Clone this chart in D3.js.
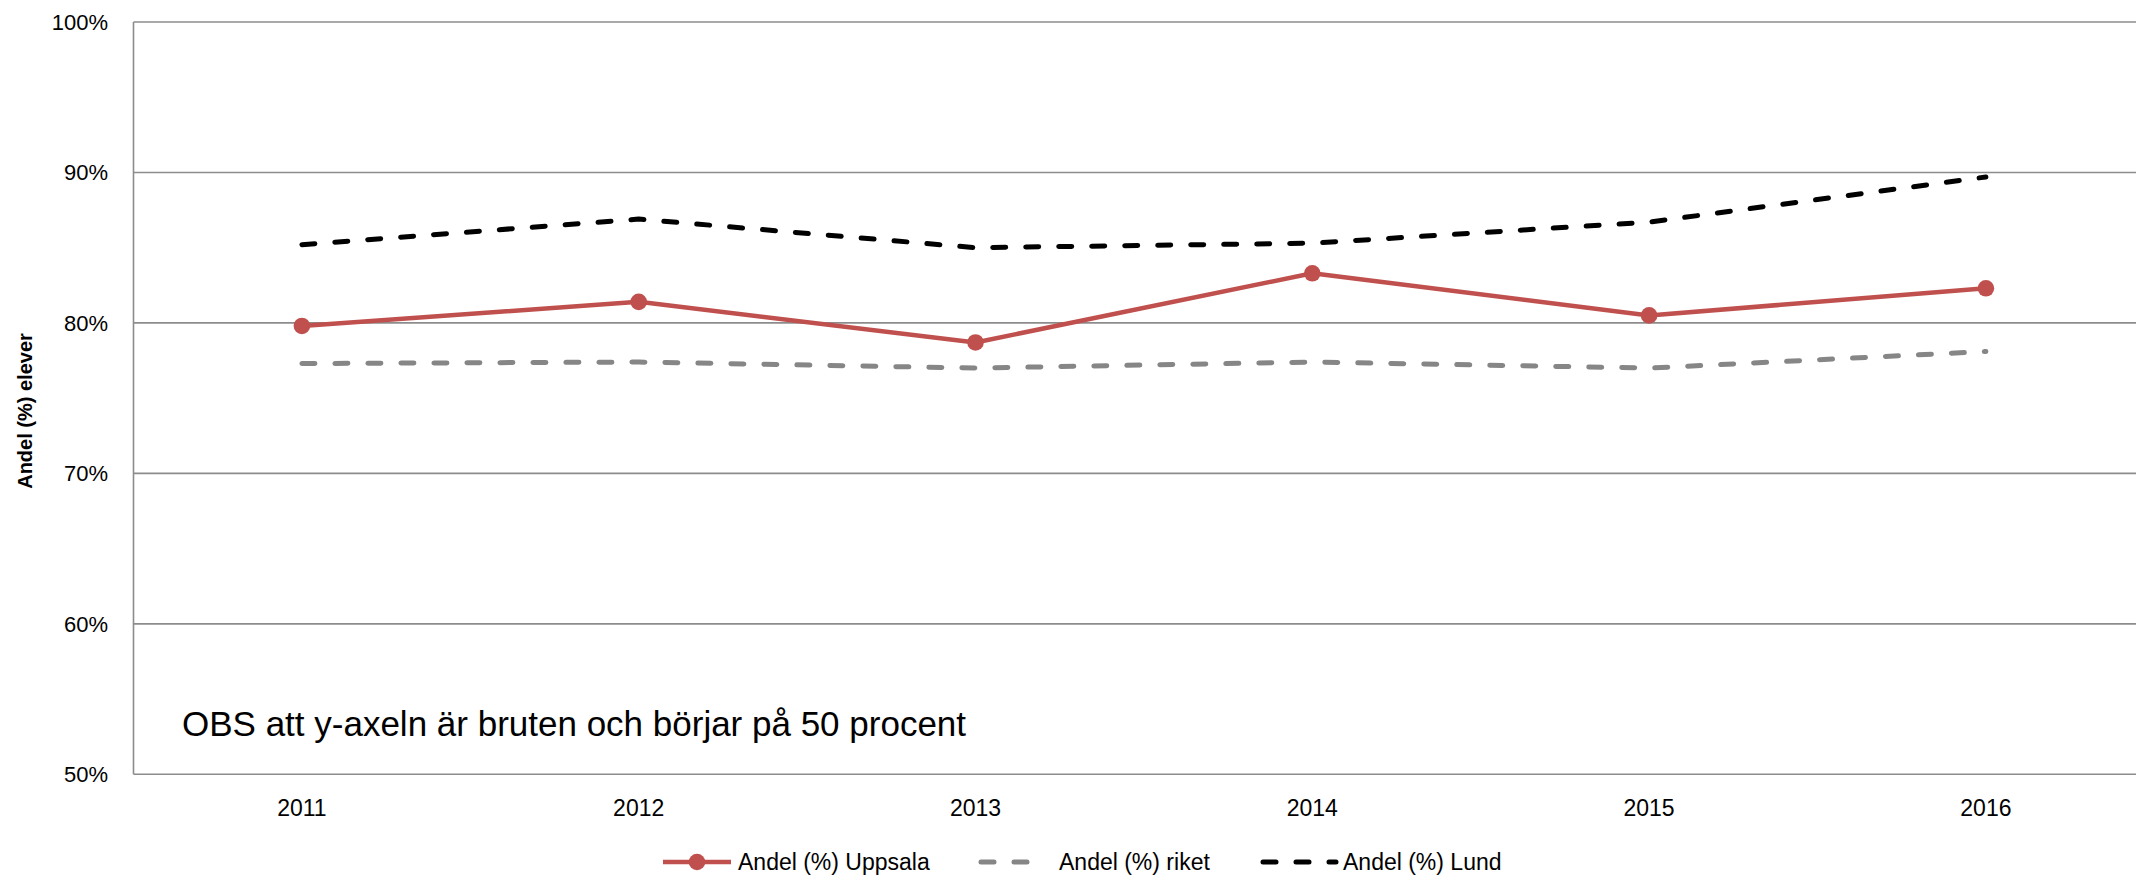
<!DOCTYPE html>
<html>
<head>
<meta charset="utf-8">
<script src="https://cdn.jsdelivr.net/npm/d3@7"></script>
<style>
  body { margin: 0; background: #fff; }
  text { font-family: "Liberation Sans", Arial, sans-serif; fill: #000; }
</style>
</head>
<body>
<svg id="chart" width="2136" height="879"></svg>
<script>
// data
const years = ['2011', '2012', '2013', '2014', '2015', '2016'];
const uppsala = [79.8, 81.4, 78.7, 83.3, 80.5, 82.3];
const riket = [77.3, 77.4, 77.0, 77.4, 77.0, 78.1];
const lund = [85.2, 86.9, 85.0, 85.3, 86.7, 89.7];
const yTicks = [50, 60, 70, 80, 90, 100];
const note = 'OBS att y-axeln är bruten och börjar på 50 procent';

const svg = d3.select('#chart');

const plotLeft = 133.5, plotTop = 22, plotBottom = 774.3, step = 336.8;

let x = d3.scaleBand()
    .domain(years)
    .range([plotLeft, plotLeft + step * years.length]);

let y = d3.scaleLinear()
    .domain([50, 100])
    .range([plotBottom, plotTop]);

const cx = d => x(d) + x.bandwidth() / 2;

// gridlines
svg.append('g')
    .selectAll('line')
    .data(yTicks)
    .enter()
    .append('line')
    .attr('x1', plotLeft)
    .attr('x2', 2136)
    .attr('y1', d => y(d))
    .attr('y2', d => y(d))
    .style('stroke', '#8c8c8c')
    .style('stroke-width', 1.6);

// left axis line
svg.append('line')
    .attr('x1', plotLeft).attr('x2', plotLeft)
    .attr('y1', plotTop).attr('y2', plotBottom)
    .style('stroke', '#8c8c8c')
    .style('stroke-width', 1.6);

// y tick labels
svg.append('g')
    .selectAll('text')
    .data(yTicks)
    .enter()
    .append('text')
    .attr('x', 108)
    .attr('y', d => y(d))
    .attr('dy', '0.36em')
    .attr('text-anchor', 'end')
    .style('font-size', '22px')
    .text(d => d + '%');

// x tick labels
svg.append('g')
    .selectAll('text')
    .data(years)
    .enter()
    .append('text')
    .attr('x', d => cx(d))
    .attr('y', 808)
    .attr('dy', '0.36em')
    .attr('text-anchor', 'middle')
    .style('font-size', '23px')
    .text(d => d);

// y axis title
svg.append('text')
    .attr('transform', 'translate(25,411) rotate(-90)')
    .attr('dy', '0.36em')
    .attr('text-anchor', 'middle')
    .style('font-size', '20px')
    .style('font-weight', 'bold')
    .text('Andel (%) elever');

// note inside the plot
svg.append('text')
    .attr('x', 182)
    .attr('y', 736)
    .style('font-size', '35px')
    .text(note);

let line = d3.line()
    .x((d, i) => cx(years[i]))
    .y(d => y(d));

const series = [
    {name: 'Andel (%) Uppsala', values: uppsala, color: '#c0504d', dash: null, marker: true},
    {name: 'Andel (%) riket', values: riket, color: '#868686', dash: '13,20', marker: false},
    {name: 'Andel (%) Lund', values: lund, color: '#000000', dash: '13,20', marker: false}
];

series.forEach(s => {
    svg.append('path')
        .datum(s.values)
        .attr('d', line)
        .attr('fill', 'none')
        .style('stroke', s.color)
        .style('stroke-width', s.marker ? 4.5 : 5)
        .style('stroke-linecap', s.dash ? 'round' : 'butt')
        .style('stroke-linejoin', 'round')
        .style('stroke-dasharray', s.dash);

    if(s.marker){
        svg.append('g')
            .selectAll('circle')
            .data(s.values)
            .enter()
            .append('circle')
            .attr('cx', (d, i) => cx(years[i]))
            .attr('cy', d => y(d))
            .attr('r', 8.3)
            .style('fill', s.color);
    }
});

// legend
const legendX = [663, 981, 1263];
const legendText = [738, 1059, 1343];
const ly = 862;

series.forEach((s, i) => {
    let g = svg.append('g');
    g.append('line')
        .attr('x1', legendX[i])
        .attr('x2', legendX[i] + (s.marker ? 68 : (i == 1 ? 53 : 73)))
        .attr('y1', ly).attr('y2', ly)
        .style('stroke', s.color)
        .style('stroke-width', s.marker ? 4.5 : 5)
        .style('stroke-linecap', s.dash ? 'round' : 'butt')
        .style('stroke-dasharray', s.dash);
    if(s.marker){
        g.append('circle')
            .attr('cx', legendX[i] + 34)
            .attr('cy', ly)
            .attr('r', 8.3)
            .style('fill', s.color);
    }
    g.append('text')
        .attr('x', legendText[i])
        .attr('y', ly)
        .attr('dy', '0.36em')
        .style('font-size', '23px')
        .text(s.name);
});
</script>
</body>
</html>
